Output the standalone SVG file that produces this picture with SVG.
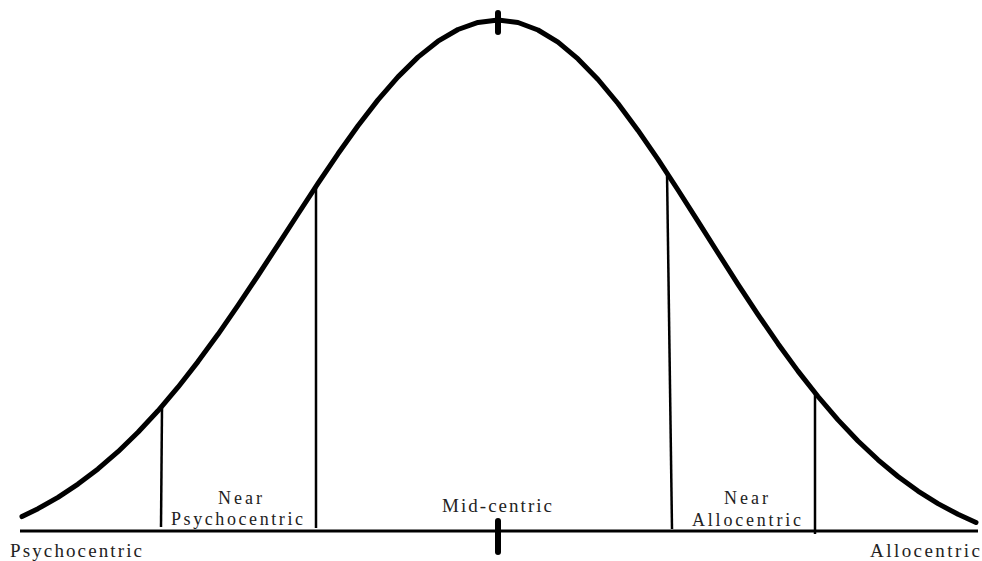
<svg xmlns="http://www.w3.org/2000/svg" width="982" height="561" viewBox="0 0 982 561">
<style>
.curve{fill:none;stroke:#000;stroke-width:5;stroke-linecap:round;stroke-linejoin:round}
.axis{fill:none;stroke:#000;stroke-width:3}
.div{fill:none;stroke:#000;stroke-width:2.5}
.tick{stroke:#000;stroke-width:6;stroke-linecap:round}
text{font-family:"Liberation Serif","DejaVu Serif",serif;font-size:19px;fill:#222}
.two{font-size:18px}
</style>
<rect width="982" height="561" fill="#fff"/>
<g id="curve">
<polyline class="curve" points="22,516.6 38,508.7 58,497.3 78,484.1 98,468.9 118,451.7 138,432.3 158,410.8 178,387.2 198,361.6 218,334.3 238,305.4 258,275.5 278,244.8 298,214 318,183.4 338,153.8 358,125.8 378,99.9 398,76.9 418,57.1 438,41.2 458,29.5 478,22.4 498,20 518,22.5 538,30 558,42.2 578,58.9 598,79.5 618,103.5 638,130.4 658,159.4 678,190 698,221.4 718,253 738,284.3 758,314.6 778,343.7 798,371.1 818,396.5 838,419.9 858,441 878,459.8 898,476.5 918,491.1 938,503.6 958,514.3 976,522.5"/>
</g>
<g id="axis">
<line class="axis" x1="20" y1="531" x2="978" y2="531"/>
</g>
<g id="connectors">
<line class="div" x1="162" y1="408" x2="161" y2="527"/>
<line class="div" x1="316" y1="185" x2="316" y2="528"/>
<line class="div" x1="667" y1="172" x2="672" y2="529"/>
<line class="div" x1="815" y1="394" x2="815" y2="534"/>
</g>
<g id="ticks">
<line class="tick" x1="498" y1="13" x2="498" y2="32"/>
<line class="tick" x1="498" y1="521" x2="498" y2="552"/>
</g>
<g id="labels">
<text x="10" y="557" textLength="132" lengthAdjust="spacing">Psychocentric</text>
<text x="870" y="557" textLength="110" lengthAdjust="spacing">Allocentric</text>
<text x="442" y="512" textLength="110" lengthAdjust="spacing">Mid-centric</text>
<text class="two" x="218" y="504" textLength="44" lengthAdjust="spacing">Near</text>
<text class="two" x="171" y="525" textLength="132" lengthAdjust="spacing">Psychocentric</text>
<text class="two" x="724" y="504" textLength="44" lengthAdjust="spacing">Near</text>
<text class="two" x="692" y="526" textLength="109" lengthAdjust="spacing">Allocentric</text>
</g>
</svg>
